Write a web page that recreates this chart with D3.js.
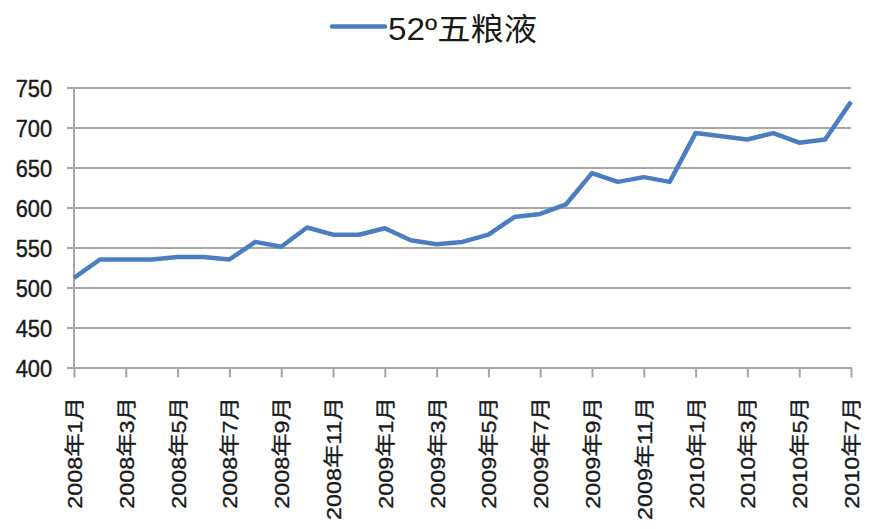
<!DOCTYPE html>
<html><head><meta charset="utf-8">
<script src="https://cdn.jsdelivr.net/npm/d3@7"></script>
<style>body{margin:0;background:#fff}svg{display:block}</style>
</head><body>
<svg id="c" width="878" height="529"></svg>
<script>
const seriesName = "52º五粮液";
const months = [
 "2008年1月","2008年2月","2008年3月","2008年4月","2008年5月","2008年6月","2008年7月","2008年8月","2008年9月","2008年10月","2008年11月","2008年12月",
 "2009年1月","2009年2月","2009年3月","2009年4月","2009年5月","2009年6月","2009年7月","2009年8月","2009年9月","2009年10月","2009年11月","2009年12月",
 "2010年1月","2010年2月","2010年3月","2010年4月","2010年5月","2010年6月","2010年7月"];
const values = [512,535,535,535,538,538,535,557,551,575,566,566,574,559,554,557,566,588,592,604,643,632,638,632,693,689,685,693,681,685,732];
const yTicks = [400,450,500,550,600,650,700,750];
const xTickLabels = months.filter((d,i)=>i%2===0);

(function(){
const svg = d3.select("#c");
const pL=74, pR=851, pT=87.5, pB=367.5;
const x = d3.scalePoint().domain(months).range([pL,pR]);
const y = d3.scaleLinear().domain([400,750]).range([pB,pT]);
const grid = "#A6A6A6";
const ink = "#1a1a1a";

// gridlines + y axis ticks
const yAxis = d3.axisLeft(y).tickValues(yTicks).tickSize(-(pR-pL)).tickSizeOuter(0).tickPadding(0);
const gy = svg.append("g").attr("transform",`translate(${pL},0)`).call(yAxis);
gy.select(".domain").remove();
gy.selectAll(".tick line").attr("stroke",grid).attr("stroke-width",2).attr("x1",-7);
gy.selectAll(".tick text").attr("x",-22).attr("dy","0.36em")
  .attr("transform","translate(-20,0) scale(0.95,1.05) translate(20,0)")
  .style("font-family","Liberation Sans, Arial, sans-serif").style("font-size","23px")
  .attr("fill",ink).attr("stroke",ink).attr("stroke-width",0.4);

// x axis
const xAxis = d3.axisBottom(x).tickValues(xTickLabels).tickSize(10).tickSizeOuter(0).tickPadding(0);
const gx = svg.append("g").attr("transform",`translate(0,${pB})`).call(xAxis);
gx.select(".domain").attr("stroke",grid).attr("stroke-width",2);
gx.selectAll(".tick line").attr("stroke",grid).attr("stroke-width",2);
gx.selectAll(".tick text")
  .attr("y",0).attr("dy",null)
  .attr("transform","translate(7.5,29.5) rotate(-90) scale(1.2,1.03)")
  .attr("text-anchor","end")
  .style("font-family","Liberation Sans, Arial, 'Noto Sans CJK SC', sans-serif").style("font-size","19.5px")
  .attr("fill",ink).attr("stroke",ink).attr("stroke-width",0.35);

// y axis line
svg.append("line").attr("x1",pL).attr("x2",pL).attr("y1",pT).attr("y2",pB)
  .attr("stroke",grid).attr("stroke-width",2);

// series line
const line = d3.line().x((d,i)=>x(months[i])).y(d=>y(d));
svg.append("path").datum(values).attr("d",line).attr("fill","none")
  .attr("stroke","#4A7EC0").attr("stroke-width",4.5).attr("stroke-linejoin","round");

// legend
svg.append("line").attr("x1",332).attr("x2",385).attr("y1",26.5).attr("y2",26.5)
  .attr("stroke","#4A7EC0").attr("stroke-width",4.5).attr("stroke-linecap","round");
svg.append("text").attr("x",388).attr("y",40).text(seriesName)
  .attr("textLength",149).attr("lengthAdjust","spacingAndGlyphs")
  .style("font-family","Liberation Sans, Arial, 'Noto Sans CJK SC', sans-serif").style("font-size","31px").attr("fill",ink);
})();
</script>
</body></html>
